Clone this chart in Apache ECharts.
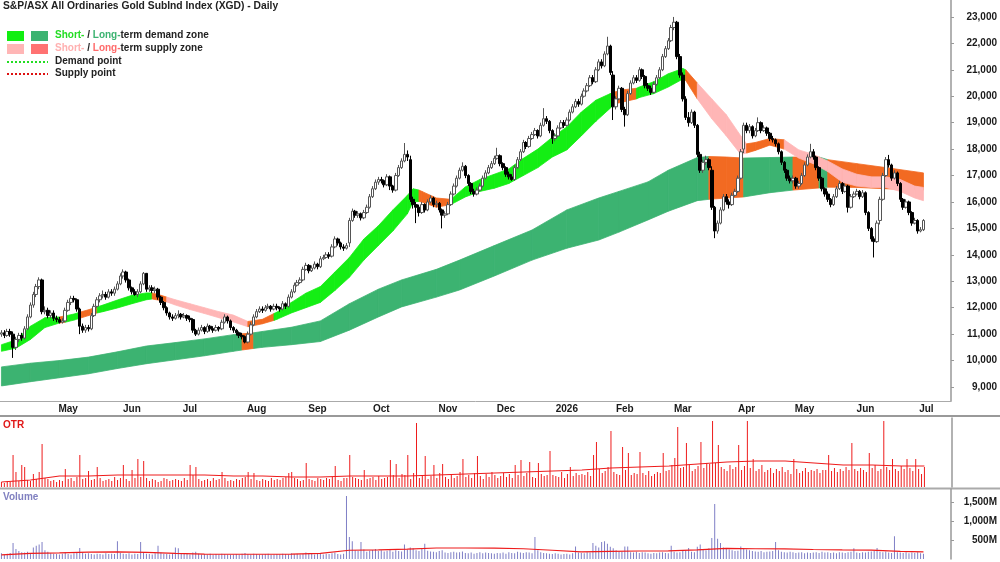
<!DOCTYPE html>
<html>
<head>
<meta charset="utf-8">
<title>XGD Daily</title>
<script src="https://cdn.jsdelivr.net/npm/echarts@6/dist/echarts.min.js"></script>
<style>
html,body{margin:0;padding:0;background:#fff;}
#main{width:1000px;height:562px;}
</style>
</head>
<body>
<div id="main"></div>
<script>
// daily candles, first one = 26 Mar 2025 (index 0)
var opens = [
11000,11050,10950,11100,11000,10500,10800,10950,10850,11200,
11650,12100,12500,12800,13050,11850,11900,11700,11800,11600,
11550,11450,11500,11900,12200,12350,12300,11950,11300,11150,
11250,11200,11700,12050,12300,12450,12500,12400,12600,12550,
12700,12900,13200,13350,13050,12750,12600,12500,12600,12900,
13300,12700,12750,12650,12700,12400,12200,12000,11800,11650,
11600,11700,11750,11650,11700,11600,11550,11150,11000,11150,
11250,11100,11300,11200,11150,11250,11200,11450,11650,11500,
11250,11150,11050,10950,10900,10700,11000,11350,11650,11850,
11950,11900,12000,12050,11950,12050,12000,11950,12150,12050,
12400,12600,12850,12950,13050,13450,13600,13400,13500,13650,
13550,13850,13900,14000,13950,14300,14600,14450,14300,14250,
14450,15300,15650,15500,15550,15400,15600,15800,16200,16500,
16750,16850,16800,16650,16950,16600,16450,17000,17300,17550,
17800,17600,16100,15900,15800,15600,15900,15700,16000,16150,
15900,15950,15700,15500,15550,15900,16300,16600,16900,17200,
17350,17000,16700,16400,16300,16450,16600,16900,17100,17300,
17450,17650,17750,17450,17300,17050,16950,16850,17300,17600,
17900,18250,18100,18400,18550,18700,18500,18900,19150,19050,
18700,18400,18500,18800,19000,18900,19100,19400,19600,19800,
19700,20000,20200,20400,20700,20550,21000,21300,21150,21600,
21900,20800,19600,19900,20300,19500,19300,20100,20500,20700,
20600,21000,20750,20400,20300,20150,20450,20700,21000,21500,
21800,22100,22600,22800,21500,20800,19900,19200,19000,19400,
18900,17800,17200,17500,17600,17200,15800,14900,15200,15700,
16200,16000,15900,16250,16400,16900,18000,18900,18700,18850,
18500,18700,19000,18700,18800,18600,18400,18350,18200,17900,
17500,17200,16900,16800,16900,16600,16700,17000,17400,17700,
17900,17700,17300,16900,16500,16300,16100,15900,16200,16500,
16700,16400,16600,15800,16200,16300,16400,16200,16350,15600,
15000,14600,14500,15300,16100,17000,17600,17400,16900,17100,
16700,16100,15800,16000,15600,15200,15300,14900,14950];
var closes = [
11050,10950,11100,11000,10500,10800,10950,10850,11200,11650,
12100,12500,12800,13050,11850,11900,11700,11800,11600,11550,
11450,11500,11900,12200,12350,12300,11950,11300,11150,11250,
11200,11700,12050,12300,12450,12500,12400,12600,12550,12700,
12900,13200,13350,13050,12750,12600,12500,12600,12900,13300,
12700,12750,12650,12700,12400,12200,12000,11800,11650,11600,
11700,11750,11650,11700,11600,11550,11150,11000,11150,11250,
11100,11300,11200,11150,11250,11200,11450,11650,11500,11250,
11150,11050,10950,10900,10700,11000,11350,11650,11850,11950,
11900,12000,12050,11950,12050,12000,11950,12150,12050,12400,
12600,12850,12950,13050,13450,13600,13400,13500,13650,13550,
13850,13900,14000,13950,14300,14600,14450,14300,14250,14350,
15300,15650,15500,15550,15400,15600,15800,16200,16500,16750,
16850,16800,16650,16950,16600,16450,17000,17300,17550,17800,
17700,16100,15900,15800,15600,15900,15700,16000,16150,15900,
15950,15700,15500,15550,15900,16300,16600,16900,17200,17350,
17000,16700,16400,16300,16450,16600,16900,17100,17300,17450,
17650,17750,17450,17300,17050,16950,16850,17300,17600,17900,
18250,18100,18400,18550,18700,18500,18900,19150,19050,18700,
18400,18500,18800,19000,18900,19100,19400,19600,19800,19700,
20000,20200,20400,20700,20550,21000,21300,21150,21600,21900,
20900,19600,19900,20300,19500,19300,20100,20500,20700,20600,
21000,20750,20400,20300,20150,20450,20700,21000,21500,21800,
22100,22600,22800,21500,20800,19900,19200,19000,19400,18900,
17800,17200,17500,17600,17300,15800,14900,15200,15700,16200,
16000,15900,16250,16400,16900,17900,18900,18700,18850,18500,
18700,19000,18700,18800,18600,18400,18350,18200,17900,17500,
17200,16900,16800,16900,16600,16700,17000,17400,17700,17900,
17700,17300,16900,16500,16300,16100,15900,16200,16500,16700,
16400,16600,15800,16200,16300,16400,16200,16350,15600,15000,
14600,14500,15200,16100,17000,17600,17400,16900,17100,16700,
16100,15800,16000,15600,15200,15300,14900,14950,15300];
var highs = [
11150,11150,11200,11200,11100,10900,11050,11050,11300,11750,
12200,12600,12900,13150,13100,12050,12000,11900,11900,11700,
11650,11600,12000,12300,12450,12450,12350,12000,11400,11350,
11350,11800,12150,12400,12550,12650,12600,12700,12700,12800,
13000,13300,13450,13400,13100,12800,12700,12700,13000,13350,
13300,12850,12850,12800,12750,12450,12250,12050,11850,11750,
11800,11900,11800,11800,11750,11700,11600,11200,11250,11350,
11300,11400,11350,11300,11350,11300,11550,11750,11700,11550,
11300,11200,11100,11050,10950,11100,11450,11750,11950,12050,
12050,12100,12150,12100,12150,12150,12050,12250,12200,12500,
12700,12950,13050,13150,13550,13700,13650,13600,13750,13700,
13950,14000,14100,14100,14400,14700,14650,14500,14400,14450,
15400,15750,15700,15650,15600,15700,15900,16300,16600,16850,
16950,16950,16850,17050,17000,16650,17100,17400,17650,18230,
17950,17750,16200,16000,15900,16000,15950,16100,16250,16200,
16050,16000,15750,15650,16000,16400,16700,17000,17300,17500,
17400,17050,16750,16500,16550,16700,17000,17200,17400,17550,
17750,18050,17800,17500,17350,17150,17050,17400,17700,18000,
18350,18300,18500,18650,18800,18750,19000,19550,19250,19100,
18750,18600,18900,19100,19100,19200,19500,19700,19900,19900,
20100,20300,20500,20800,20800,21100,21400,21400,21700,22250,
21950,20950,20000,20400,20350,19600,20200,20600,20800,20800,
21100,21050,20800,20500,20400,20550,20800,21100,21600,21900,
22200,22700,23000,22850,21600,20900,20000,19400,19500,19450,
18950,17900,17600,17750,17650,17350,15850,15300,15800,16300,
16300,16100,16350,16500,17000,18000,19000,19000,18950,18900,
18800,19200,19050,18900,18850,18650,18500,18400,18250,17950,
17550,17250,17000,17000,16950,16800,17100,17500,17800,18200,
18000,17750,17350,16950,16550,16400,16150,16300,16600,16800,
16750,16700,16650,16300,16400,16500,16450,16450,16400,15650,
15050,14700,15300,16200,17100,17700,17780,17450,17200,17150,
16750,16150,16100,16050,15650,15400,15350,15050,15350];
var lows = [
10900,10850,10900,10900,10100,10400,10700,10750,10800,11150,
11600,12000,12400,12700,11750,11750,11600,11600,11500,11450,
11400,11400,11450,11850,12100,12200,11850,11000,11050,11050,
11100,11150,11650,12000,12200,12350,12300,12350,12450,12450,
12650,12850,13100,12950,12650,12500,12450,12400,12550,12850,
12600,12600,12550,12550,12300,12100,11900,11700,11550,11500,
11550,11600,11550,11600,11500,11450,11050,10930,10950,11100,
11000,11050,11100,11050,11100,11100,11150,11400,11400,11150,
11050,10950,10850,10800,10650,10650,10950,11300,11600,11800,
11800,11850,11950,11850,11900,11900,11850,11900,11950,12000,
12350,12550,12800,12900,13000,13400,13300,13350,13450,13450,
13500,13800,13850,13850,13900,14250,14350,14200,14150,14200,
14300,15250,15400,15400,15300,15350,15550,15750,16150,16450,
16650,16700,16550,16600,16450,16350,16400,16950,17250,17500,
17550,16000,15750,15200,15450,15550,15600,15650,15950,15800,
15800,15600,15000,15400,15500,15850,16250,16550,16850,17150,
16900,16600,16300,16200,16250,16400,16550,16850,17050,17250,
17400,17600,17350,17200,16950,16850,16800,16800,17250,17550,
17850,18000,18050,18350,18500,18400,18450,18850,18950,18600,
18200,18300,18450,18750,18800,18850,19050,19350,19550,19600,
19650,19950,20150,20350,20450,20500,20950,21050,21100,21550,
20800,19100,19500,19850,19400,18850,19250,20050,20450,20500,
20550,20650,20300,20200,20050,20100,20400,20650,20950,21450,
21750,22050,22500,21400,20700,19800,19100,18850,18950,18800,
17700,17100,17100,17400,17200,15700,14630,14800,15150,15650,
15900,15750,15850,16200,16350,16850,17850,18600,18600,18400,
18450,18650,18600,18650,18500,18300,18250,18100,17800,17400,
17100,16800,16700,16700,16500,16500,16650,16950,17350,17650,
17600,17200,16800,16400,16200,16000,15800,15850,16150,16450,
16300,16350,15600,15750,16150,16250,16100,16150,15500,14900,
14500,13900,14450,15150,16050,16950,17300,16800,16850,16600,
16000,15700,15750,15500,15100,15150,14800,14850,14900];

// OTR bar heights and volume (M), same days
var otr = [
5,4,6,5,32,15,6,22,20,7, 6,13,8,15,43,9,8,6,7,5,
7,6,18,8,9,6,10,32,8,9, 16,7,8,20,9,6,7,8,6,10,
7,9,22,8,6,17,9,28,10,26, 9,6,8,7,5,6,9,8,6,7,
8,7,6,9,7,22,12,20,8,6, 7,8,6,9,7,8,15,9,6,7,
6,8,7,9,10,15,8,14,7,6, 8,7,6,9,7,8,7,9,10,14,
15,9,8,6,7,24,8,7,6,9, 8,7,9,8,10,21,7,6,9,9,
32,10,9,8,7,17,8,9,10,7, 11,8,9,10,27,12,23,9,13,12,
32,8,14,64,9,12,31,8,11,22, 9,14,23,10,8,13,9,11,15,28,
10,12,9,14,31,11,8,13,10,15, 12,9,11,14,10,13,9,22,12,27,
11,14,25,10,9,24,13,11,12,36, 12,11,10,15,9,13,20,11,14,12,
13,12,15,11,32,45,18,14,16,20, 56,15,13,12,40,17,34,12,14,13,
35,14,12,16,11,13,15,14,34,16, 17,22,29,60,19,20,44,22,16,18,
21,45,19,24,23,66,24,42,20,18, 16,22,18,20,42,17,21,66,19,28,
16,18,22,15,17,19,14,18,16,20, 15,17,13,28,18,14,16,19,15,17,
16,18,14,17,17,32,16,19,15,18, 16,20,17,44,18,16,19,17,15,34,
19,22,16,18,66,20,17,28,18,16, 21,18,28,19,16,28,18,13,20];
var volume = [
150,120,140,160,420,260,210,180,170,190, 160,300,350,380,450,230,190,150,140,130,
120,140,170,130,120,150,160,290,170,140, 150,130,120,140,130,120,150,130,140,130,
470,160,140,130,150,120,140,130,450,180, 140,130,120,150,350,170,140,130,120,150,
300,280,140,130,150,120,170,190,140,120, 130,120,140,110,130,120,140,130,120,110,
120,130,110,140,160,130,120,140,130,110, 120,130,140,110,120,130,120,140,130,120,
150,130,140,120,130,170,140,130,120,140, 130,120,140,130,150,170,130,120,140,1660,
580,470,230,210,450,250,190,220,240,260, 210,230,200,220,240,190,230,210,200,380,
250,300,280,230,210,260,400,220,200,190, 180,210,230,170,160,180,190,170,180,200,
160,150,170,140,160,180,150,170,160,150, 140,160,150,170,140,180,160,150,190,170,
160,180,170,150,580,230,180,160,150,140, 130,150,140,120,130,140,120,150,330,170,
160,150,180,170,420,350,300,450,470,400, 320,280,230,210,190,330,330,180,170,190,
160,180,170,150,140,160,150,170,180,160, 150,350,190,170,180,210,230,290,190,180,
320,380,250,230,280,550,1450,530,420,300, 280,250,230,210,220,330,290,250,230,210,
200,190,210,180,190,200,210,450,230,190, 180,170,190,180,160,170,180,150,170,160,
170,180,160,190,170,180,160,170,150,180, 170,160,180,190,280,170,160,180,170,190,
200,210,290,190,180,200,170,160,600,180, 170,160,180,150,170,160,180,150,140];

// averages read every 10 days
var avgIdx = [0,10,20,30,40,50,60,70,80,90,100,110,120,130,140,150,160,170,180,190,200,210,220,230,240,250,260,270,280,290,300,310,318];
var otrAvg = [5,7,11,11,12,12,12,12,11,11,10,10,11,11,11,12,13,14,15,16,17,19,20,21,23,25,26,26,24,22,22,21,21];
var volAvg = [110,150,160,180,185,175,150,130,125,125,130,150,230,240,260,290,290,285,270,230,190,200,210,215,240,280,270,265,250,240,235,200,185];

// short-term zone edges (g demand, o / p supply)
var shortIdx = [0,5,10,15,20,22,25,27,30,33,35,40,45,50,52,55,57,60,65,70,75,80,85,90,94,95,100,105,110,115,120,125,130,135,140,142,144,145,150,155,160,165,170,175,180,185,190,195,200,205,210,211,215,219,220,225,230,235,236,240,245,250,255,257,260,265,270,275,280,285,290,295,300,305,310,315,318];
var shortUp = [10600,10780,11300,11620,11650,11690,11760,11830,11920,12030,12100,12290,12470,12560,12560,12470,12400,12300,12150,12000,11850,11720,11480,11560,11780,11830,12200,12550,12800,13350,13900,14600,15100,15700,16250,16500,16450,16400,16150,16100,16570,16850,17050,17250,17650,18000,18450,18840,19400,19850,20100,20150,20250,20300,20350,20550,20850,21050,21000,20500,19900,19300,18500,18200,18250,18400,18350,17970,17800,17550,17250,17050,16950,16950,16850,16600,16550];
var shortLo = [10350,10470,10800,11250,11420,11450,11530,11600,11700,11800,11850,11990,12150,12300,12330,12270,12220,12100,11930,11780,11620,11460,11280,11390,11520,11560,11800,12000,12200,12650,13150,13800,14350,14900,15550,16000,16020,16000,15800,15900,16190,16400,16520,16700,17000,17300,17700,17970,18500,19050,19550,19700,19800,19900,19950,20100,20350,20650,20600,19900,19150,18500,17800,17850,17950,18150,18000,17660,17450,17150,16750,16600,16550,16550,16400,16150,16050];
var shortCol = 'ggggoggooggggg' + 'oopppppp' + 'oo' + 'gggggggggggg' + 'ooo' + 'gggggggggggg' + 'oo' + 'ggggg' + 'o' + 'pppp' + 'ooo' + 'pppppppppp';

// long-term zone edges (g demand, o supply)
var longIdx = [0,10,20,30,40,50,60,70,80,83,87,90,100,110,120,130,138,150,158,170,183,195,206,213,223,230,240,244,250,256,265,273,282,285,295,305,318];
var longUp = [9760,9900,10000,10130,10330,10550,10680,10820,10980,11010,11050,11100,11260,11500,12150,12700,13050,13450,13800,14350,14940,15700,16150,16400,16760,17200,17680,17720,17700,17660,17680,17700,17700,17600,17450,17300,17100];
var longLo = [9040,9200,9350,9500,9700,9880,10030,10180,10350,10400,10460,10500,10600,10720,11150,11650,12030,12400,12670,13200,13800,14250,14560,14860,15320,15650,16050,16100,16150,16190,16350,16450,16530,16560,16550,16500,16450];
var longCol = 'ggggggggg' + 'o' + 'g' + 'gggggggggggggggg' + 'oo' + 'gg' + 'o' + 'g' + 'ooo';

var monthIdx = [23,45,65,88,109,131,154,174,195,215,235,257,277,298,319];
var monthNames = ['May','Jun','Jul','Aug','Sep','Oct','Nov','Dec','2026','Feb','Mar','Apr','May','Jun','Jul'];
var priceTicks = [9000,10000,11000,12000,13000,14000,15000,16000,17000,18000,19000,20000,21000,22000,23000];
var volTicks = [500,1000,1500];

var SLOTS = 328;
var FONT = 'Liberation Sans';
var cats = [];
for (var i = 0; i < SLOTS; i++) cats.push(i);

var candles = closes.map(function (c, i) { return [opens[i], c, lows[i], highs[i]]; });
function pairs(idx, vals) { return idx.map(function (x, k) { return [x, vals[k]]; }); }

function bandSeries(idx, up, lo, codes, palette, z) {
    var data = [];
    for (var j = 0; j < idx.length - 1; j++) data.push([idx[j], up[j], j]);
    return {
        type: 'custom',
        xAxisIndex: 0,
        yAxisIndex: 0,
        z: z,
        silent: true,
        encode: {x: 0, y: 1},
        renderItem: function (params, api) {
            var j = api.value(2);
            var pts = [
                api.coord([idx[j], up[j]]),
                api.coord([idx[j + 1], up[j + 1]]),
                api.coord([idx[j + 1], lo[j + 1]]),
                api.coord([idx[j], lo[j]])
            ];
            var c = palette[codes.charAt(j)];
            return {type: 'polygon', shape: {points: pts}, style: {fill: c, stroke: c, lineWidth: 0.8}};
        },
        data: data
    };
}

var main = echarts.init(document.getElementById('main'));
var labelFont = {color: '#1a1a1a', fontWeight: 'bold', fontSize: 10, fontFamily: FONT};
var option = {
    animation: false,
    backgroundColor: '#fff',
    grid: [
        {left: 0, top: 0, width: 952, height: 401},
        {left: 0, top: 418, width: 952, height: 69},
        {left: 0, top: 489, width: 952, height: 70}
    ],
    xAxis: [
        {
            type: 'category', gridIndex: 0, data: cats, boundaryGap: true,
            axisLine: {lineStyle: {color: '#aaa', width: 1}},
            axisTick: {
                alignWithLabel: true, length: 3, lineStyle: {color: '#999'},
                interval: function (index) { return monthIdx.indexOf(index) >= 0; }
            },
            axisLabel: Object.assign({
                margin: 3,
                interval: function (index) { return monthIdx.indexOf(index) >= 0; },
                formatter: function (value, index) {
                    var k = monthIdx.indexOf(index);
                    return k >= 0 ? monthNames[k] : '';
                }
            }, labelFont),
            splitLine: {show: false}
        },
        {type: 'category', gridIndex: 1, data: cats, show: false},
        {type: 'category', gridIndex: 2, data: cats, show: false}
    ],
    yAxis: [
        {
            type: 'value', gridIndex: 0, position: 'right', min: 8470, max: 23641,
            axisLine: {show: true, lineStyle: {color: '#999', width: 1.5}},
            axisTick: {show: true, length: 3, lineStyle: {color: '#999'}, customValues: priceTicks},
            axisLabel: Object.assign({
                customValues: priceTicks, margin: 46, align: 'right',
                formatter: function (v) { return v.toLocaleString('en-US'); }
            }, labelFont),
            splitLine: {show: false}
        },
        {
            type: 'value', gridIndex: 1, position: 'right', min: 0, max: 69,
            axisLine: {show: true, lineStyle: {color: '#999', width: 1.5}},
            axisTick: {show: false}, axisLabel: {show: false}, splitLine: {show: false}
        },
        {
            type: 'value', gridIndex: 2, position: 'right', min: 0, max: 1842,
            axisLine: {show: true, lineStyle: {color: '#999', width: 1.5}},
            axisTick: {show: true, length: 3, lineStyle: {color: '#999'}, customValues: volTicks},
            axisLabel: Object.assign({
                customValues: volTicks, margin: 46, align: 'right',
                formatter: function (v) { return v.toLocaleString('en-US') + 'M'; }
            }, labelFont),
            splitLine: {show: false}
        }
    ],
    series: [
        bandSeries(longIdx, longUp, longLo, longCol, {g: '#3cb371', o: '#f26a22'}, 1),
        bandSeries(shortIdx, shortUp, shortLo, shortCol, {g: '#14ee14', o: '#f26a22', p: '#ffb6b6'}, 2),
        {
            type: 'candlestick', xAxisIndex: 0, yAxisIndex: 0, z: 5,
            barWidth: 3,
            itemStyle: {color: '#ffffff', color0: '#000000', borderColor: '#555555', borderColor0: '#000000', borderWidth: 1},
            data: candles
        },
        {
            type: 'bar', xAxisIndex: 1, yAxisIndex: 1, barWidth: 1,
            itemStyle: {color: '#ee1c1c'}, data: otr
        },
        {
            type: 'line', xAxisIndex: 1, yAxisIndex: 1, symbol: 'none', z: 4,
            lineStyle: {color: '#ee1c1c', width: 1.2}, data: pairs(avgIdx, otrAvg)
        },
        {
            type: 'bar', xAxisIndex: 2, yAxisIndex: 2, barWidth: 1,
            itemStyle: {color: '#7f7fc6'}, data: volume
        },
        {
            type: 'line', xAxisIndex: 2, yAxisIndex: 2, symbol: 'none', z: 4,
            lineStyle: {color: '#ee1c1c', width: 1.2}, data: pairs(avgIdx, volAvg)
        }
    ],
    graphic: [
        {type: 'text', x: 3, y: 1, style: {text: 'S&P/ASX All Ordinaries Gold SubInd Index (XGD) - Daily', fill: '#222', fontWeight: 'bold', fontSize: 10.3, fontFamily: FONT}},
        {type: 'rect', shape: {x: 7, y: 31, width: 17, height: 10}, style: {fill: '#11ee11'}},
        {type: 'rect', shape: {x: 31, y: 31, width: 17, height: 10}, style: {fill: '#3cb371'}},
        {type: 'rect', shape: {x: 7, y: 44, width: 17, height: 10}, style: {fill: '#ffb6b6'}},
        {type: 'rect', shape: {x: 31, y: 44, width: 17, height: 10}, style: {fill: '#ff7272'}},
        {type: 'line', shape: {x1: 7, y1: 62, x2: 48, y2: 62}, style: {stroke: '#22dd22', lineWidth: 2, lineDash: [2, 2]}},
        {type: 'line', shape: {x1: 7, y1: 74, x2: 48, y2: 74}, style: {stroke: '#dd1111', lineWidth: 2, lineDash: [2, 2]}},
        {type: 'text', x: 55, y: 30, style: {
            text: '{a|Short-} / {b|Long-}term demand zone', fill: '#222', fontWeight: 'bold', fontSize: 10, fontFamily: FONT,
            rich: {a: {fill: '#22dd22', fontWeight: 'bold', fontSize: 10, fontFamily: FONT}, b: {fill: '#3cb371', fontWeight: 'bold', fontSize: 10, fontFamily: FONT}}
        }},
        {type: 'text', x: 55, y: 43, style: {
            text: '{a|Short-} / {b|Long-}term supply zone', fill: '#222', fontWeight: 'bold', fontSize: 10, fontFamily: FONT,
            rich: {a: {fill: '#ffb0b0', fontWeight: 'bold', fontSize: 10, fontFamily: FONT}, b: {fill: '#ff6b6b', fontWeight: 'bold', fontSize: 10, fontFamily: FONT}}
        }},
        {type: 'text', x: 55, y: 56, style: {text: 'Demand point', fill: '#222', fontWeight: 'bold', fontSize: 10, fontFamily: FONT}},
        {type: 'text', x: 55, y: 68, style: {text: 'Supply point', fill: '#222', fontWeight: 'bold', fontSize: 10, fontFamily: FONT}},
        {type: 'line', shape: {x1: 0, y1: 416, x2: 1000, y2: 416}, style: {stroke: '#999', lineWidth: 2}},
        {type: 'line', shape: {x1: 0, y1: 488.5, x2: 1000, y2: 488.5}, style: {stroke: '#aaa', lineWidth: 2}},
        {type: 'text', x: 3, y: 420, style: {text: 'OTR', fill: '#e01818', fontWeight: 'bold', fontSize: 10, fontFamily: FONT}},
        {type: 'text', x: 3, y: 492, style: {text: 'Volume', fill: '#8080c0', fontWeight: 'bold', fontSize: 10, fontFamily: FONT}}
    ]
};
main.setOption(option);
</script>
</body>
</html>
